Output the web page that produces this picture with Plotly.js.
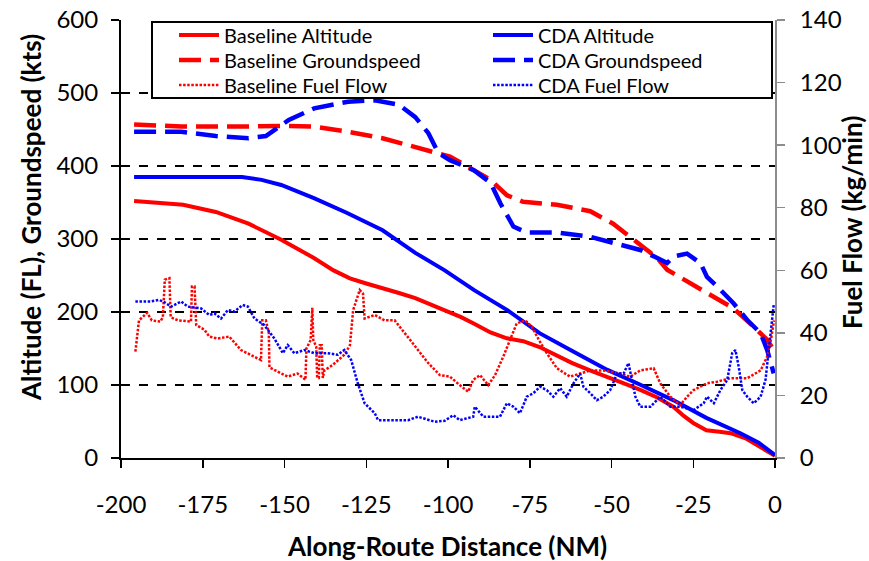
<!DOCTYPE html>
<html>
<head>
<meta charset="utf-8">
<script src="https://cdn.plot.ly/plotly-3.0.1.min.js"></script>
<style>html,body{margin:0;padding:0;background:#fff;}#chart{width:869px;height:561px;}</style>
</head>
<body>
<div id="chart"></div>
<script>
// ---- Data ----
const seriesNames = ['Baseline Altitude','CDA Altitude','Baseline Groundspeed','CDA Groundspeed','Baseline Fuel Flow','CDA Fuel Flow'];
const xTickVals = [-200,-175,-150,-125,-100,-75,-50,-25,0];
const xTickText = xTickVals.map(v => String(v));
const axisTitles = ['Along-Route Distance (NM)', 'Altitude (FL), Groundspeed (kts)', 'Fuel Flow (kg/min)'];

const baseAltX = [-196,-181,-171,-161,-151,-141,-135,-130,-125,-120,-115,-110,-105,-100,-96,-92,-87,-82,-77,-72,-67,-62,-56,-51,-46,-41,-36,-31,-28,-25,-21,-17,-13.6,-9,-5.5,-2.5,0];
const baseAltY = [352,347,337,321,299,274,257,246,239,233,226,219,210,201,193,184,172,164,160,152,141,130,119,111,102,93,83,70,58,48,38,36,34,27,18,10,3];

const cdaAltX = [-196,-180,-163,-157,-151,-141,-131,-120,-110,-101,-92,-82,-72,-61.7,-51.4,-41,-31,-21,-10.6,-5,0];
const cdaAltY = [385,385,385,381,374,356,336,312,281,257,230,203,171,146,121,100,79,55,34,21,4];

const baseGsX = [-196,-181.6,-161,-151,-141,-130.6,-120,-110,-103,-99.4,-92,-87,-82,-77,-66.7,-56.5,-49.5,-43.3,-36,-33,-25.9,-20.8,-12.7,-6.6,-2.4,-1];
const baseGsY = [457,454,454,455,454,447,438,426,418,413,394,381,360,351,347,338,321,299,274,258,239,226,205,180,162,152];

const cdaGsX = [-196,-181.6,-171,-161,-155.7,-148.7,-140.9,-130.6,-122.4,-115,-110,-106,-103,-99.4,-92,-87,-84,-80,-76,-66.7,-56.5,-48.3,-41.2,-36,-33,-31,-26.9,-22.8,-20.8,-17.7,-12.7,-8.5,-4.4,-2.4,-0.4];
const cdaGsY = [447,447,441,438,441,463,479,488,490,484,467,445,418,408,394,377,349,317,309,309,303,294,285,274,267,276,280,267,248,235,212,189,171,148,116];

const baseFfX = [-195.6,-194.5,-192,-190.6,-188,-187.2,-186.6,-185.2,-184.8,-182.6,
  -178.6,-178.3,-177.5,-177,-174.5,-173,-170.5,-166.9,-163.3,-160.3,
  -157.2,-156.8,-155.7,-154.8,-154.6,-151,-149,-146,-143.6,-143.3,
  -142,-141.5,-141.2,-140.3,-140,-139.5,-139.2,-138.6,-138.3,-137.8,
  -135.3,-131.7,-130,-129,-127,-126,-125.5,-122.4,-119.4,-116.3,
  -112.3,-109,-106,-102.5,-99.4,-96.4,-93.8,-92.3,-90.2,-87.7,
  -85.6,-83.1,-81,-79,-76.4,-74.4,-71.8,-69.8,-66.7,-62.7,
  -59.6,-56.5,-52.5,-47.3,-44.3,-41.2,-37.1,-35.1,-32,-29,
  -26.9,-24.9,-20.8,-17.7,-13.6,-8.5,-4.4,-2.4,-1.2,-0.3];
const baseFfY = [34,44,46.4,44,43.6,45,57,57.5,45,44,
  43.6,54.8,54.8,42.5,41,38.8,38.2,38.8,34.5,33,
  31.3,44,44,40,29,27,26,27,25,35,
  37.7,48,37.7,35.6,25.6,25.6,36,36,25.6,28,
  29.7,33,36,47.3,53.7,52.6,44.6,45.7,44,44,
  38.8,34.5,30.3,26.5,26,23.3,21.2,25,26.5,23.3,
  26.5,32.4,37.7,43,44,42,37,33.5,28.7,26,
  27,28,28,27,26,28,28.7,23.9,19.6,16.9,
  19.6,21.7,23.9,24.4,25.5,25.5,28,32.4,38,44];

const cdaFfX = [-195.6,-191,-188.5,-187,-184.7,-181.6,-179.6,-175.5,-173,-171.4,
  -169.4,-167.3,-165.3,-162.8,-161.2,-159.2,-156.2,-153.1,-150.5,-149,
  -147,-143.9,-140.9,-136.8,-133.7,-131.7,-129.6,-127.6,-125.5,-122.4,
  -121.4,-117.3,-112.2,-109.2,-104.1,-101,-98.4,-96.4,-92.3,-91.8,
  -89.2,-84.1,-82,-80,-78,-75.9,-73.9,-71.8,-69.8,-67.8,
  -65.7,-63.7,-61.6,-59.6,-58.6,-56.5,-54.5,-52.5,-50.4,-48.3,
  -46.3,-44.8,-43.8,-42.7,-41.2,-38.1,-35.1,-32,-29,-24.9,
  -21.8,-20.8,-18.7,-16.7,-14.6,-13.1,-12.1,-11.1,-10,-8.5,
  -6.5,-4.4,-2.9,-1.9,-0.9,-0.4];
const cdaFfY = [50,50,50.5,50,48.4,50,48.4,47.8,45.7,46.2,
  44.6,47.3,46.8,48.9,48.4,44.6,42.5,38.2,33.5,36.1,
  33.5,34.5,33.5,33.5,33,34.5,31.3,23.9,17.5,14.3,
  12.1,12.1,12.1,13.2,11.6,11.9,13.7,12.1,13.2,16.4,
  13.2,13.2,17.5,16.4,14.3,19.6,20.7,22.8,21.7,19.6,
  22.3,19.6,23.9,27,22.8,20.7,18.5,19.6,21.7,27,
  27,30.3,25,19.6,16.4,16.4,19.6,16.4,16.4,15.3,
  17.5,19.6,17.5,21.7,25,33.5,34.5,29.2,21.7,19.6,
  17.5,19.6,25,34.5,43,48.9];

// ---- Styles ----
const RED = '#ff0000', BLUE = '#0000ff';
const FONT = 'Lato, "Open Sans", sans-serif';
const gsDash = '22px,9px';
const ffDash = '2.5px,1.6px';
const W = 869, H = 561, ML = 121, MR = 94, MT = 20, MB = 103;
const PW = W - ML - MR, PH = H - MT - MB;
const px2x = p => (p - ML) / PW;          // pixel -> paper x
const py2y = p => (H - MB - p) / PH;      // pixel -> paper y

const traces = [
  {x: baseAltX, y: baseAltY, name: seriesNames[0], legend: 'legend', legendrank: 1, mode: 'lines', line: {color: RED, width: 4}},
  {x: cdaAltX, y: cdaAltY, name: seriesNames[1], legend: 'legend', legendrank: 2, mode: 'lines', line: {color: BLUE, width: 4}},
  {x: baseGsX, y: baseGsY, name: seriesNames[2], legend: 'legend2', legendrank: 3, mode: 'lines', line: {color: RED, width: 4.5, dash: gsDash}},
  {x: cdaGsX, y: cdaGsY, name: seriesNames[3], legend: 'legend2', legendrank: 4, mode: 'lines', line: {color: BLUE, width: 4.5, dash: gsDash}},
  {x: baseFfX, y: baseFfY, name: seriesNames[4], legend: 'legend3', legendrank: 5, yaxis: 'y2', mode: 'lines', line: {color: RED, width: 2.5, dash: ffDash}},
  {x: cdaFfX, y: cdaFfY, name: seriesNames[5], legend: 'legend3', legendrank: 6, yaxis: 'y2', mode: 'lines', line: {color: BLUE, width: 2.5, dash: ffDash}}
];

const titleFont = {family: FONT, size: 26, color: '#000', weight: 'bold'};
const legendRow = rowY => ({
  orientation: 'h', x: px2x(174), y: py2y(rowY), xanchor: 'left', yanchor: 'middle',
  entrywidth: 259, entrywidthmode: 'pixels', itemwidth: 40,
  bgcolor: 'rgba(0,0,0,0)', borderwidth: 0,
  font: {family: FONT, size: 20, color: '#000'}
});

const layout = {
  width: W, height: H,
  margin: {l: ML, r: MR, t: MT, b: MB, pad: 0},
  paper_bgcolor: '#fff', plot_bgcolor: '#fff',
  font: {family: FONT, color: '#000', size: 20},
  showlegend: true,
  legend: legendRow(35),
  legend2: legendRow(60),
  legend3: legendRow(85),
  shapes: [{
    type: 'rect', xref: 'paper', yref: 'paper', layer: 'above',
    x0: px2x(152), x1: px2x(772), y0: py2y(98), y1: py2y(22),
    line: {color: '#000', width: 2}, fillcolor: '#fff'
  }],
  annotations: [
    {text: '<b>' + axisTitles[0] + '</b>', xref: 'paper', yref: 'paper', x: px2x(447), y: py2y(546),
     xanchor: 'center', yanchor: 'middle', showarrow: false, font: titleFont},
    {text: '<b>' + axisTitles[1] + '</b>', xref: 'paper', yref: 'paper', x: px2x(31), y: py2y(218),
     xanchor: 'center', yanchor: 'middle', textangle: -90, showarrow: false, font: titleFont},
    {text: '<b>' + axisTitles[2] + '</b>', xref: 'paper', yref: 'paper', x: px2x(852), y: py2y(223),
     xanchor: 'center', yanchor: 'middle', textangle: -90, showarrow: false, font: titleFont}
  ],
  xaxis: {
    range: [-200, 0], tickvals: xTickVals, ticktext: xTickText, ticks: 'outside', ticklen: 8, tickwidth: 1.5, tickcolor: '#000',
    showline: true, linecolor: '#000', linewidth: 2, showgrid: false, zeroline: false,
    tickfont: {family: FONT, size: 24}, ticklabelstandoff: 16
  },
  yaxis: {
    range: [0, 600], dtick: 100, ticks: 'outside', ticklen: 8, tickwidth: 1.5, tickcolor: '#000',
    showline: true, linecolor: '#000', linewidth: 2, zeroline: false,
    showgrid: true, gridcolor: '#000', gridwidth: 1.3, griddash: 'dash',
    tickfont: {family: FONT, size: 24}, ticklabelstandoff: 8
  },
  yaxis2: {
    overlaying: 'y', side: 'right', range: [0, 140], dtick: 20,
    ticks: 'outside', ticklen: 8, tickwidth: 1.5, tickcolor: '#8c8c8c',
    showline: true, linecolor: '#8c8c8c', linewidth: 2, zeroline: false, showgrid: false,
    tickfont: {family: FONT, size: 24}, ticklabelstandoff: 10
  }
};

Plotly.newPlot('chart', traces, layout, {displayModeBar: false, staticPlot: true});
</script>
</body>
</html>
